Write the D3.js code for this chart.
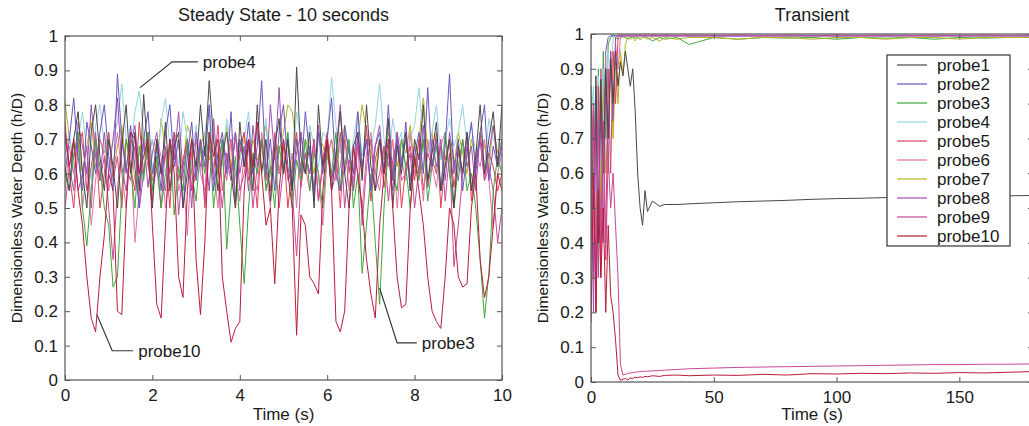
<!DOCTYPE html>
<html>
<head>
<meta charset="utf-8">
<script src="https://cdn.jsdelivr.net/npm/d3@7"></script>
<style>
  html, body { margin: 0; padding: 0; background: #fff; overflow: hidden; }
  svg { display: block; font-family: "Liberation Sans", Arial, sans-serif; }
</style>
</head>
<body>
<svg id="chart" width="1029" height="426"></svg>
<script>
// probe names and colours
const probes = ['probe1', 'probe2', 'probe3', 'probe4', 'probe5', 'probe6', 'probe7', 'probe8', 'probe9', 'probe10'];
const probeColors = ['#4e4545', '#6a55c0', '#3ea83a', '#95d5e0', '#e0405a', '#e070a8', '#b8b020', '#a050b0', '#c84898', '#b81c3a'];

// steady state: one sample every 0.1 s from 0 to 10 s
const steadyTime = d3.range(101).map(i => +(i * 0.1).toFixed(1));
const steady1 = [0.62,0.55,0.7,0.78,0.6,0.5,0.72,0.8,0.65,0.55, 0.7,0.62,0.5,0.68,0.8,0.6,0.72,0.55,0.83,0.65, 0.5,0.7,0.6,0.75,0.55,0.68,0.72,0.5,0.6,0.7, 0.62,0.8,0.65,0.87,0.7,0.55,0.65,0.72,0.6,0.5, 0.75,0.62,0.7,0.55,0.8,0.6,0.7,0.52,0.68,0.76, 0.6,0.7,0.55,0.91,0.65,0.6,0.72,0.5,0.8,0.62, 0.7,0.55,0.65,0.78,0.6,0.5,0.68,0.72,0.58,0.8, 0.62,0.55,0.7,0.6,0.76,0.5,0.68,0.6,0.72,0.55, 0.7,0.64,0.8,0.58,0.66,0.75,0.55,0.62,0.7,0.5, 0.68,0.6,0.72,0.55,0.65,0.8,0.6,0.7,0.78,0.62, 0.8];
const steady2 = [0.6,0.7,0.82,0.65,0.55,0.75,0.68,0.6,0.72,0.8, 0.65,0.55,0.89,0.7,0.6,0.74,0.62,0.5,0.7,0.78, 0.6,0.68,0.55,0.72,0.8,0.62,0.7,0.5,0.65,0.75, 0.58,0.7,0.62,0.8,0.55,0.66,0.72,0.6,0.78,0.52, 0.7,0.62,0.75,0.6,0.68,0.87,0.6,0.7,0.55,0.72, 0.8,0.62,0.55,0.7,0.6,0.78,0.65,0.52,0.72,0.6, 0.7,0.82,0.6,0.55,0.74,0.66,0.6,0.78,0.62,0.7, 0.55,0.68,0.72,0.6,0.8,0.58,0.7,0.62,0.75,0.55, 0.65,0.72,0.6,0.85,0.62,0.7,0.55,0.68,0.89,0.6, 0.7,0.55,0.66,0.75,0.6,0.72,0.8,0.58,0.68,0.62, 0.7];
const steady3 = [0.6,0.55,0.65,0.72,0.5,0.39,0.55,0.7,0.62,0.5, 0.45,0.27,0.3,0.55,0.7,0.62,0.5,0.68,0.58,0.72, 0.55,0.65,0.5,0.6,0.7,0.48,0.62,0.55,0.7,0.6, 0.52,0.68,0.6,0.72,0.5,0.62,0.7,0.38,0.55,0.65, 0.45,0.28,0.5,0.66,0.6,0.7,0.55,0.62,0.5,0.68, 0.6,0.72,0.5,0.64,0.58,0.7,0.55,0.66,0.6,0.5, 0.68,0.6,0.72,0.55,0.62,0.7,0.5,0.6,0.31,0.45, 0.6,0.4,0.22,0.5,0.68,0.6,0.55,0.7,0.62,0.5, 0.65,0.58,0.7,0.52,0.62,0.68,0.55,0.72,0.6,0.5, 0.62,0.7,0.55,0.6,0.5,0.35,0.18,0.31,0.55,0.65, 0.6];
const steady4 = [0.65,0.72,0.6,0.7,0.78,0.66,0.58,0.74,0.8,0.68, 0.62,0.7,0.75,0.86,0.7,0.65,0.78,0.84,0.72,0.66, 0.7,0.6,0.75,0.82,0.68,0.72,0.62,0.78,0.7,0.65, 0.74,0.6,0.72,0.8,0.66,0.7,0.62,0.76,0.68,0.72, 0.64,0.7,0.78,0.62,0.72,0.68,0.76,0.6,0.7,0.74, 0.66,0.72,0.6,0.78,0.7,0.64,0.74,0.68,0.62,0.72, 0.7,0.88,0.74,0.66,0.72,0.6,0.7,0.78,0.65,0.72, 0.68,0.74,0.86,0.7,0.62,0.76,0.68,0.72,0.6,0.7, 0.74,0.85,0.7,0.66,0.72,0.8,0.64,0.7,0.76,0.68, 0.72,0.8,0.68,0.74,0.66,0.7,0.62,0.76,0.7,0.68, 0.72];
const steady5 = [0.75,0.6,0.5,0.68,0.72,0.55,0.62,0.7,0.5,0.6, 0.72,0.58,0.65,0.5,0.7,0.62,0.55,0.75,0.6,0.68, 0.52,0.7,0.6,0.66,0.5,0.72,0.58,0.64,0.7,0.55, 0.62,0.7,0.5,0.68,0.6,0.74,0.55,0.62,0.7,0.5, 0.66,0.72,0.58,0.64,0.5,0.7,0.62,0.55,0.72,0.6, 0.68,0.5,0.62,0.72,0.56,0.66,0.6,0.7,0.52,0.64, 0.72,0.58,0.66,0.5,0.7,0.62,0.55,0.68,0.6,0.74, 0.52,0.64,0.7,0.56,0.66,0.6,0.72,0.5,0.62,0.68, 0.58,0.7,0.55,0.66,0.62,0.72,0.5,0.64,0.7,0.56, 0.66,0.6,0.72,0.52,0.64,0.7,0.58,0.66,0.62,0.55, 0.6];
const steady6 = [0.55,0.68,0.6,0.72,0.5,0.62,0.45,0.58,0.7,0.65, 0.55,0.62,0.72,0.6,0.5,0.68,0.4,0.55,0.7,0.62, 0.58,0.7,0.65,0.5,0.62,0.72,0.55,0.6,0.42,0.66, 0.7,0.6,0.55,0.72,0.62,0.5,0.68,0.58,0.7,0.6, 0.52,0.66,0.7,0.6,0.55,0.72,0.62,0.5,0.68,0.6, 0.7,0.58,0.66,0.5,0.72,0.62,0.55,0.68,0.6,0.45, 0.65,0.7,0.58,0.62,0.72,0.55,0.68,0.6,0.5,0.66, 0.72,0.6,0.55,0.68,0.62,0.7,0.5,0.64,0.58,0.72, 0.6,0.66,0.52,0.7,0.62,0.56,0.68,0.72,0.6,0.5, 0.68,0.6,0.72,0.55,0.66,0.62,0.7,0.58,0.44,0.6, 0.66];
const steady7 = [0.81,0.7,0.65,0.72,0.6,0.68,0.75,0.62,0.7,0.66, 0.72,0.6,0.68,0.74,0.62,0.7,0.58,0.66,0.72,0.64, 0.7,0.62,0.76,0.66,0.6,0.72,0.68,0.62,0.74,0.7, 0.6,0.68,0.72,0.64,0.7,0.6,0.66,0.74,0.62,0.7, 0.66,0.72,0.6,0.7,0.64,0.68,0.74,0.62,0.7,0.66, 0.72,0.8,0.78,0.68,0.62,0.7,0.66,0.6,0.72,0.68, 0.64,0.7,0.62,0.68,0.74,0.66,0.6,0.7,0.8,0.72, 0.66,0.6,0.7,0.64,0.72,0.68,0.62,0.7,0.66,0.74, 0.62,0.7,0.82,0.66,0.72,0.6,0.68,0.64,0.7,0.62, 0.72,0.66,0.6,0.7,0.64,0.72,0.68,0.62,0.74,0.66, 0.7];
const steady8 = [0.7,0.62,0.55,0.75,0.68,0.6,0.8,0.65,0.58,0.72, 0.6,0.7,0.82,0.62,0.55,0.68,0.74,0.6,0.7,0.56, 0.66,0.72,0.6,0.55,0.7,0.64,0.78,0.6,0.68,0.5, 0.72,0.62,0.68,0.55,0.76,0.6,0.7,0.64,0.58,0.72, 0.6,0.68,0.55,0.74,0.62,0.7,0.58,0.8,0.64,0.85, 0.6,0.7,0.56,0.66,0.72,0.6,0.68,0.55,0.74,0.62, 0.7,0.58,0.66,0.8,0.6,0.68,0.55,0.72,0.62,0.7, 0.56,0.68,0.74,0.6,0.66,0.55,0.72,0.64,0.7,0.58, 0.68,0.6,0.74,0.56,0.7,0.62,0.68,0.58,0.72,0.64, 0.58,0.7,0.62,0.68,0.55,0.72,0.6,0.66,0.74,0.62, 0.68];
const steady9 = [0.5,0.62,0.7,0.55,0.6,0.68,0.5,0.72,0.58,0.65, 0.5,0.35,0.55,0.7,0.62,0.58,0.68,0.5,0.6,0.72, 0.55,0.62,0.5,0.68,0.6,0.72,0.48,0.62,0.7,0.55, 0.6,0.68,0.52,0.7,0.58,0.62,0.5,0.66,0.6,0.72, 0.55,0.6,0.68,0.5,0.62,0.7,0.56,0.6,0.66,0.5, 0.62,0.7,0.55,0.36,0.58,0.66,0.6,0.7,0.52,0.62, 0.68,0.55,0.6,0.72,0.5,0.64,0.58,0.7,0.45,0.62, 0.7,0.55,0.6,0.68,0.52,0.64,0.7,0.58,0.6,0.66, 0.5,0.62,0.7,0.56,0.64,0.6,0.7,0.52,0.66,0.33, 0.45,0.6,0.68,0.55,0.62,0.7,0.58,0.62,0.55,0.4, 0.5];
const steady10 = [0.72,0.62,0.7,0.55,0.45,0.3,0.18,0.14,0.3,0.42, 0.6,0.55,0.2,0.19,0.5,0.72,0.7,0.6,0.65,0.7, 0.45,0.22,0.18,0.45,0.7,0.6,0.3,0.24,0.55,0.7, 0.35,0.19,0.4,0.72,0.65,0.7,0.3,0.2,0.11,0.15, 0.17,0.55,0.7,0.62,0.75,0.6,0.45,0.5,0.28,0.55, 0.7,0.6,0.5,0.13,0.48,0.45,0.3,0.28,0.25,0.55, 0.7,0.55,0.17,0.14,0.2,0.5,0.68,0.6,0.5,0.35, 0.25,0.18,0.45,0.6,0.7,0.5,0.3,0.21,0.22,0.5, 0.65,0.55,0.45,0.3,0.2,0.17,0.15,0.3,0.5,0.45, 0.3,0.27,0.28,0.5,0.6,0.35,0.24,0.3,0.45,0.6, 0.55];

// transient: sample times (s) and depths
const transTime = [0,1,2,3,4,5,6,7,8,9,10,11,12,13,14,15,16,17,18,19,20,21,22,23,25,28,30,35,40,50,60,70,80,90,100,110,120,130,140,150,160,170,180];
const trans1 = [0.85,0.5,0.88,0.4,0.87,0.6,0.9,0.7,0.93,0.8,0.95,0.85,0.92,0.88,0.95,0.9,0.85,0.9,0.78,0.6,0.5,0.45,0.55,0.49,0.52,0.505,0.51,0.51,0.512,0.515,0.518,0.52,0.522,0.525,0.527,0.528,0.53,0.531,0.532,0.533,0.534,0.535,0.536];
const trans2 = [0.7,0.3,0.85,0.5,0.9,0.6,0.95,0.99,0.995,0.996,0.995,0.994,0.996,0.995,0.996,0.995,0.996,0.995,0.996,0.995,0.996,0.995,0.996,0.995,0.996,0.995,0.996,0.995,0.996,0.995,0.996,0.995,0.996,0.995,0.996,0.995,0.996,0.995,0.996,0.995,0.996,0.995,0.996];
const trans3 = [0.6,0.8,0.3,0.9,0.45,0.95,0.7,0.97,0.99,0.995,0.99,0.985,0.99,0.992,0.99,0.985,0.99,0.992,0.988,0.99,0.985,0.99,0.992,0.99,0.98,0.99,0.985,0.99,0.97,0.99,0.985,0.99,0.988,0.99,0.985,0.99,0.988,0.99,0.985,0.99,0.988,0.99,0.99];
const trans4 = [0.75,0.85,0.55,0.88,0.7,0.9,0.8,0.95,0.85,0.99,0.993,0.995,0.993,0.995,0.993,0.995,0.993,0.995,0.993,0.995,0.993,0.995,0.993,0.995,0.993,0.995,0.993,0.995,0.993,0.995,0.993,0.995,0.993,0.995,0.993,0.995,0.993,0.995,0.993,0.995,0.993,0.995,0.993];
const trans5 = [0.35,0.8,0.2,0.85,0.3,0.75,0.4,0.9,0.6,0.95,0.8,0.99,0.997,0.996,0.997,0.996,0.997,0.996,0.997,0.996,0.997,0.996,0.997,0.996,0.997,0.996,0.997,0.996,0.997,0.996,0.997,0.996,0.997,0.996,0.997,0.996,0.997,0.996,0.997,0.996,0.997,0.996,0.997];
const trans6 = [0.8,0.4,0.85,0.5,0.9,0.6,0.93,0.7,0.95,0.8,0.97,0.9,0.99,0.994,0.995,0.994,0.995,0.994,0.995,0.994,0.995,0.994,0.995,0.994,0.995,0.994,0.995,0.994,0.995,0.994,0.995,0.994,0.995,0.994,0.995,0.994,0.995,0.994,0.995,0.994,0.995,0.994,0.995];
const trans7 = [0.45,0.75,0.3,0.8,0.5,0.85,0.6,0.75,0.9,0.7,0.92,0.8,0.95,0.88,0.97,0.99,0.985,0.99,0.98,0.99,0.985,0.99,0.99,0.985,0.99,0.98,0.99,0.985,0.99,0.99,0.985,0.99,0.99,0.985,0.99,0.99,0.985,0.99,0.99,0.985,0.99,0.99,0.99];
const trans8 = [0.7,0.2,0.8,0.3,0.85,0.4,0.9,0.6,0.95,0.75,0.99,0.995,0.994,0.995,0.994,0.995,0.994,0.995,0.994,0.995,0.994,0.995,0.994,0.995,0.994,0.995,0.994,0.995,0.994,0.995,0.994,0.995,0.994,0.995,0.994,0.995,0.994,0.995,0.994,0.995,0.994,0.995,0.994];
const trans9 = [0.5,0.8,0.3,0.75,0.4,0.7,0.35,0.65,0.5,0.6,0.45,0.3,0.05,0.02,0.022,0.025,0.026,0.027,0.028,0.029,0.03,0.03,0.031,0.031,0.032,0.033,0.034,0.036,0.038,0.04,0.042,0.043,0.044,0.045,0.046,0.047,0.048,0.049,0.05,0.05,0.051,0.051,0.052];
const trans10 = [0.17,0.6,0.2,0.55,0.3,0.5,0.2,0.45,0.25,0.2,0.12,0.02,0.005,0.008,0.01,0.006,0.012,0.01,0.014,0.012,0.015,0.013,0.016,0.015,0.018,0.016,0.019,0.02,0.018,0.02,0.019,0.022,0.02,0.024,0.023,0.025,0.024,0.026,0.025,0.027,0.026,0.028,0.03];

const steadySeries = [steady1, steady2, steady3, steady4, steady5, steady6, steady7, steady8, steady9, steady10];
const transSeries = [trans1, trans2, trans3, trans4, trans5, trans6, trans7, trans8, trans9, trans10];
const yTicks = [0, 0.1, 0.2, 0.3, 0.4, 0.5, 0.6, 0.7, 0.8, 0.9, 1];

const svg = d3.select('#chart');
const fmtY = d => (d === 0 || d === 1) ? String(d) : d.toFixed(1);
const ink = '#1a1a1a';

function drawPanel(opts) {
    const { left, right, top, bottom, xDomain, xTicks, title, times, series, drawOrder, clipId } = opts;
    const x = d3.scaleLinear().domain(xDomain).range([left, right]);
    const y = d3.scaleLinear().domain([0, 1]).range([bottom, top]);

    svg.append('clipPath').attr('id', clipId)
        .append('rect')
        .attr('x', left).attr('y', top)
        .attr('width', right - left).attr('height', bottom - top);

    const line = d3.line()
        .x((d, i) => x(times[i]))
        .y(d => y(d));

    const g = svg.append('g').attr('clip-path', `url(#${clipId})`);
    drawOrder.forEach(k => {
        g.append('path')
            .datum(series[k])
            .attr('fill', 'none')
            .attr('stroke', probeColors[k])
            .attr('stroke-width', 1)
            .attr('stroke-linejoin', 'round')
            .attr('d', line);
    });

    // box and inward ticks on all four sides
    svg.append('rect')
        .attr('x', left).attr('y', top)
        .attr('width', right - left).attr('height', bottom - top)
        .attr('fill', 'none').attr('stroke', '#555').attr('stroke-width', 1.2);

    const tk = 5;
    const axB = svg.append('g').attr('transform', `translate(0,${bottom})`)
        .call(d3.axisBottom(x).tickValues(xTicks).tickSizeInner(-tk).tickSizeOuter(0).tickPadding(7).tickFormat(d3.format('d')));
    const axT = svg.append('g').attr('transform', `translate(0,${top})`)
        .call(d3.axisTop(x).tickValues(xTicks).tickSizeInner(-tk).tickSizeOuter(0).tickFormat(''));
    const axL = svg.append('g').attr('transform', `translate(${left},0)`)
        .call(d3.axisLeft(y).tickValues(yTicks).tickSizeInner(-tk).tickSizeOuter(0).tickPadding(7).tickFormat(fmtY));
    const axR = svg.append('g').attr('transform', `translate(${right},0)`)
        .call(d3.axisRight(y).tickValues(yTicks).tickSizeInner(-tk).tickSizeOuter(0).tickFormat(''));
    [axB, axT, axL, axR].forEach(a => {
        a.select('.domain').remove();
        a.selectAll('line').attr('stroke', '#555');
        a.selectAll('text').attr('font-size', 17).attr('fill', ink)
            .attr('font-family', '"Liberation Sans", Arial, sans-serif');
    });
    axB.selectAll('text').attr('dy', '0.85em');

    const cx = (left + right) / 2;
    svg.append('text').attr('x', cx).attr('y', 21)
        .attr('text-anchor', 'middle').attr('font-size', 18).attr('fill', ink)
        .text(title);
    svg.append('text').attr('x', cx).attr('y', 420)
        .attr('text-anchor', 'middle').attr('font-size', 17).attr('fill', ink)
        .text('Time (s)');
    svg.append('text')
        .attr('transform', `translate(${left - 43},${(top + bottom) / 2}) rotate(-90)`)
        .attr('text-anchor', 'middle').attr('font-size', 15.5).attr('fill', ink)
        .text('Dimensionless Water Depth (h/D)');

    return { x, y };
}

// left panel: steady state
const leftPanel = drawPanel({
    left: 65, right: 502, top: 36, bottom: 380,
    xDomain: [0, 10], xTicks: [0, 2, 4, 6, 8, 10],
    title: 'Steady State - 10 seconds',
    times: steadyTime, series: steadySeries,
    drawOrder: [6, 3, 4, 5, 7, 8, 2, 1, 0, 9],
    clipId: 'clip-left'
});

// right panel: transient (box extends past the window edge)
const rightPanel = drawPanel({
    left: 591, right: 1033, top: 34, bottom: 382,
    xDomain: [0, 180], xTicks: [0, 50, 100, 150],
    title: 'Transient',
    times: transTime, series: transSeries,
    drawOrder: [2, 6, 3, 1, 4, 5, 7, 0, 8, 9],
    clipId: 'clip-right'
});

// callouts on the steady state panel
const callouts = [
    { label: 'probe4', pts: [[1.72, 0.85], [2.45, 0.925], [3.04, 0.925]] },
    { label: 'probe10', pts: [[0.73, 0.19], [1.08, 0.085], [1.56, 0.085]] },
    { label: 'probe3', pts: [[7.2, 0.267], [7.6, 0.108], [8.05, 0.108]] }
];
callouts.forEach(c => {
    const p = c.pts.map(d => [leftPanel.x(d[0]), leftPanel.y(d[1])]);
    svg.append('path')
        .attr('d', d3.line()(p))
        .attr('fill', 'none').attr('stroke', '#333').attr('stroke-width', 1.2);
    const end = p[p.length - 1];
    svg.append('text')
        .attr('x', end[0] + 5).attr('y', end[1] + 6)
        .attr('font-size', 17).attr('fill', ink)
        .text(c.label);
});

// legend on the transient panel
const legend = svg.append('g').attr('transform', 'translate(887,55)');
legend.append('rect')
    .attr('width', 123).attr('height', 191)
    .attr('fill', '#fff').attr('stroke', '#333').attr('stroke-width', 1.2);
probes.forEach((p, i) => {
    const ly = 10 + i * 19;
    legend.append('line')
        .attr('x1', 10).attr('x2', 40).attr('y1', ly).attr('y2', ly)
        .attr('stroke', probeColors[i]).attr('stroke-width', 1.2);
    legend.append('text')
        .attr('x', 50).attr('y', ly + 6)
        .attr('font-size', 17).attr('fill', ink)
        .text(p);
});
</script>
</body>
</html>
